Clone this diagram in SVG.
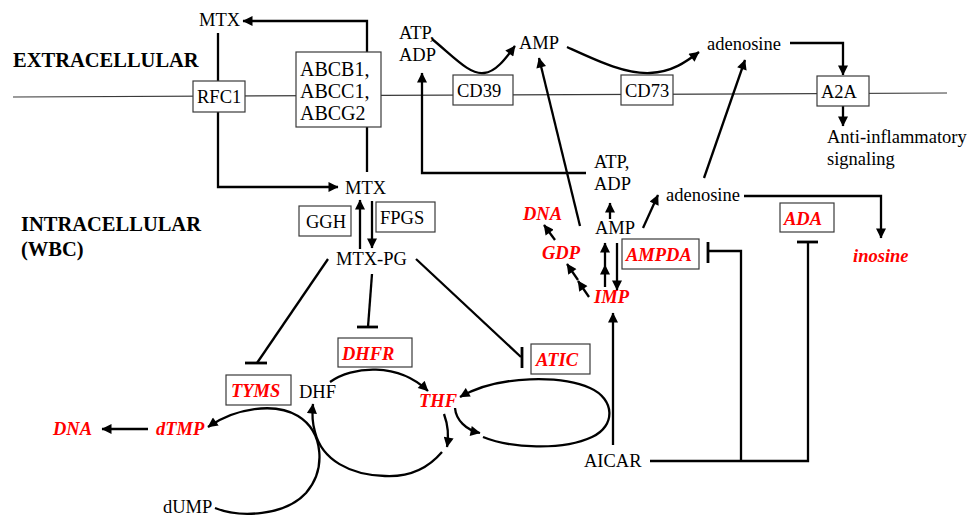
<svg xmlns="http://www.w3.org/2000/svg" width="967" height="516" viewBox="0 0 967 516" font-family="Liberation Serif, Times New Roman, serif">
<defs>
<style>
text{font-size:18.5px;fill:#000}
.b{font-weight:bold;font-size:20.5px}
.r{font-weight:bold;font-style:italic;fill:#ff0000;font-size:18.5px}
.abc{font-size:20px}
.box{fill:#fff;stroke:#3a3a3a;stroke-width:1.2}
.c{fill:none;stroke:#000;stroke-width:2.3}
.a{marker-end:url(#ah)}
.bar{fill:none;stroke:#000;stroke-width:2.8}
.mem{fill:none;stroke:#3a3a3a;stroke-width:1.2}
</style>
<marker id="ah" viewBox="0 0 10 10" refX="9.5" refY="5" markerWidth="11" markerHeight="10" markerUnits="userSpaceOnUse" orient="auto"><path d="M0,0 L10,5 L0,10 z" fill="#000"/></marker>
</defs>
<rect width="967" height="516" fill="#fff"/>

<line class="mem" x1="13" y1="97" x2="947" y2="93"/>

<text class="b" x="13" y="67" font-family="Liberation Serif">EXTRACELLULAR</text>
<text class="b" x="21" y="231" font-family="Liberation Serif">INTRACELLULAR</text>
<text class="b" x="21" y="256" font-family="Liberation Serif">(WBC)</text>

<g id="connectors">
<path class="c" d="M218,33 V81"/>
<path class="c a" d="M218,112 V187 H338"/>
<path class="c a" d="M367,52 V21 H243"/>
<path class="c" d="M367,127 V172"/>
<path class="c a" d="M360,249 V200"/>
<path class="c a" d="M372,201 V248"/>
<path class="c" d="M328,259 L257,363"/>
<path class="bar" d="M245,363 H267"/>
<path class="c" d="M372,274 L368,327"/>
<path class="bar" d="M357,327 H378"/>
<path class="c" d="M416,259 L521,357"/>
<path class="bar" d="M522,347 V368"/>
<path class="c a" d="M148,429 H102"/>
<path class="c a" d="M215,508 C240,518 285,516 306,493 C326,470 324,432 298,416 C275,402 235,408 208,427"/>
<path class="c a" d="M442,452 C425,472 405,477 385,476 C350,475 322,460 315,432 C312,422 312,413 313,404"/>
<path class="c a" d="M330,382 C352,366 398,362 428,391"/>
<path class="c a" d="M444,414 C448,425 449,436 447,447"/>
<path class="c a" d="M455,408 C456,420 466,430 480,433"/>
<path class="c a" d="M483,437 C510,448 562,451 592,437 C616,426 615,399 590,388 C563,376 500,374 460,397"/>
<path class="c a" d="M432,39 C455,58 470,75 484,73 C496,72 506,58 515,46"/>
<path class="c a" d="M567,47 C600,62 625,74 650,73 C672,72 686,62 699,52"/>
<path class="c a" d="M790,43 H843 V75"/>
<path class="c a" d="M843,106 V126"/>
<path class="c a" d="M586,173 H422 V73"/>
<path class="c a" d="M580,226 L539,58"/>
<path class="c a" d="M704,178 L745,60"/>
<path class="c a" d="M610,219 V203"/>
<path class="c a" d="M643,228 L658,195"/>
<path class="c a" d="M744,196 H881 V238"/>
<path class="c a" d="M555,240 L544,225"/>
<path class="c a" d="M589,297 L578,281"/>
<path class="c a" d="M578,280 L567,264"/>
<path class="c a" d="M605,287 V265"/>
<path class="c a" d="M605,265 V243"/>
<path class="c a" d="M617,243 V290"/>
<path class="c a" d="M613,445 V313"/>
<path class="c" d="M650,461 H808 V242"/>
<path class="c" d="M741,461 V251 H708"/>
<path class="bar" d="M708,242 V263"/>
<path class="bar" d="M797,242 H818"/>
</g>

<g id="RFC1"><rect class="box" x="193" y="81" width="52" height="31"/><text x="197" y="103">RFC1</text></g>
<g id="ABC"><rect class="box" x="296" y="52" width="85" height="75"/><text class="abc" x="300" y="76">ABCB1,</text><text class="abc" x="300" y="98">ABCC1,</text><text class="abc" x="300" y="120">ABCG2</text></g>
<g id="MTX-out"><text x="199" y="26">MTX</text></g>
<g id="MTX-in"><text x="345" y="194">MTX</text></g>
<g id="GGH"><rect class="box" x="299" y="206" width="52" height="30"/><text x="306" y="228">GGH</text></g>
<g id="FPGS"><rect class="box" x="376" y="202" width="59" height="30"/><text x="380" y="224">FPGS</text></g>
<g id="MTX-PG"><text x="336" y="265">MTX-PG</text></g>
<g id="TYMS"><rect class="box" x="226" y="375" width="65" height="30"/><text class="r" x="231" y="397">TYMS</text></g>
<g id="DHFR"><rect class="box" x="338" y="338" width="74" height="29"/><text class="r" x="342" y="360">DHFR</text></g>
<g id="ATIC"><rect class="box" x="531" y="344" width="59" height="30"/><text class="r" x="536" y="366">ATIC</text></g>
<g id="DHF"><text x="299" y="398">DHF</text></g>
<g id="THF"><text class="r" x="419" y="407">THF</text></g>
<g id="dTMP"><text class="r" x="156" y="435">dTMP</text></g>
<g id="DNA1"><text class="r" x="53" y="435">DNA</text></g>
<g id="dUMP"><text x="163" y="513">dUMP</text></g>

<g id="ATPADP-out"><text x="399" y="39">ATP,</text><text x="399" y="61">ADP</text></g>
<g id="CD39"><rect class="box" x="453" y="75" width="60" height="30"/><text x="457" y="97">CD39</text></g>
<g id="AMP-out"><text x="519" y="49">AMP</text></g>
<g id="CD73"><rect class="box" x="621" y="75" width="52" height="30"/><text x="625" y="97">CD73</text></g>
<g id="adenosine-out"><text x="707" y="50">adenosine</text></g>
<g id="A2A"><rect class="box" x="817" y="76" width="52" height="30"/><text x="821" y="98">A2A</text></g>
<g id="signal"><text x="827" y="143">Anti-inflammatory</text><text x="827" y="165">signaling</text></g>

<g id="ATPADP-in"><text x="594" y="168">ATP,</text><text x="594" y="190">ADP</text></g>
<g id="AMP-in"><text x="595" y="234">AMP</text></g>
<g id="adenosine-in"><text x="666" y="201">adenosine</text></g>
<g id="ADA"><rect class="box" x="780" y="203" width="54" height="29"/><text class="r" x="784" y="225">ADA</text></g>
<g id="inosine"><text class="r" x="853" y="262">inosine</text></g>
<g id="AMPDA"><rect class="box" x="622" y="239" width="77" height="30"/><text class="r" x="626" y="261">AMPDA</text></g>
<g id="DNA2"><text class="r" x="523" y="220">DNA</text></g>
<g id="GDP"><text class="r" x="542" y="259">GDP</text></g>
<g id="IMP"><text class="r" x="594" y="303">IMP</text></g>
<g id="AICAR"><text x="584" y="467">AICAR</text></g>
</svg>
